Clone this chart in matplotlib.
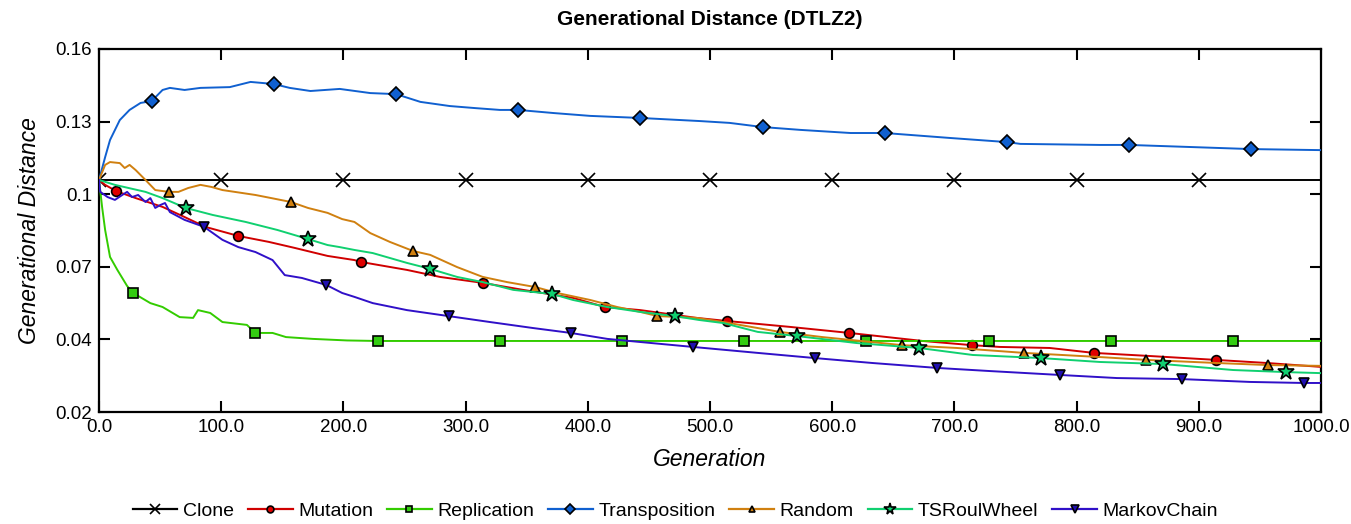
import numpy as np
import matplotlib
matplotlib.use("Agg")
import matplotlib.pyplot as plt
from matplotlib.lines import Line2D

plt.rcParams['font.family'] = ['Liberation Sans', 'DejaVu Sans']

title = "Generational Distance (DTLZ2)"
xlabel = "Generation"
ylabel = "Generational Distance"

x_ticks = [0, 100, 200, 300, 400, 500, 600, 700, 800, 900, 1000]
y_ticks = [0.02, 0.048, 0.076, 0.104, 0.132, 0.16]
y_tick_labels = ["0.02", "0.04", "0.07", "0.1", "0.13", "0.16"]

# ---- series data (generation, value) ----
clone_gen = [0, 100, 200, 300, 400, 500, 600, 700, 800, 900, 1000]
clone_val = [0.1095] * 11
clone_mk = [0, 100, 200, 300, 400, 500, 600, 700, 800, 900]

mutation_gen = [0, 5, 14, 30, 52, 70, 87, 114, 139, 160, 187, 209, 214, 252, 279, 314, 347, 388,
                414, 443, 489, 514, 566, 614, 674, 714, 737, 778, 814, 860, 914, 956, 1000]
mutation_val = [0.1095, 0.1076, 0.1052, 0.1025, 0.0991, 0.0952, 0.0914, 0.0879, 0.0856, 0.0833,
                0.0802, 0.0786, 0.0779, 0.0748, 0.0721, 0.0698, 0.0671, 0.0640, 0.0605, 0.0593,
                0.0563, 0.0551, 0.0528, 0.0505, 0.0474, 0.0458, 0.0451, 0.0447, 0.0428, 0.0416,
                0.0401, 0.0389, 0.0374]
mutation_mk = [14, 114, 214, 314, 414, 514, 614, 714, 814, 914]

replication_gen = [0, 2.5, 5, 9, 15, 23, 28, 42, 52, 66, 77, 81, 91, 101, 121, 128, 142, 153,
                   175, 203, 228, 328, 428, 528, 628, 728, 828, 928, 1000]
replication_val = [0.1095, 0.0991, 0.0902, 0.0798, 0.0748, 0.0686, 0.0659, 0.0620, 0.0605,
                   0.0566, 0.0563, 0.0593, 0.0582, 0.0547, 0.0536, 0.0505, 0.0505, 0.0489,
                   0.0482, 0.0476, 0.0474, 0.0474, 0.0474, 0.0474, 0.0474, 0.0474, 0.0474,
                   0.0474, 0.0474]
replication_mk = [28, 128, 228, 328, 428, 528, 628, 728, 828, 928]

transposition_gen = [0, 5, 9, 17, 25, 34, 43, 52, 58, 70, 83, 107, 124, 143, 156, 173, 197,
                     222, 243, 263, 287, 308, 328, 343, 372, 402, 443, 492, 516, 543, 574, 615,
                     643, 696, 743, 754, 819, 843, 893, 943, 1000]
transposition_val = [0.1095, 0.1183, 0.1249, 0.1326, 0.1365, 0.1392, 0.1399, 0.1442, 0.1450,
                     0.1442, 0.1450, 0.1453, 0.1473, 0.1465, 0.1450, 0.1438, 0.1446, 0.1430,
                     0.1426, 0.1396, 0.1380, 0.1372, 0.1365, 0.1365, 0.1353, 0.1342, 0.1334,
                     0.1322, 0.1315, 0.1299, 0.1288, 0.1276, 0.1276, 0.1257, 0.1241, 0.1234,
                     0.1230, 0.1230, 0.1222, 0.1214, 0.1210]
transposition_mk = [43, 143, 243, 343, 443, 543, 643, 743, 843, 943]

random_gen = [0, 5, 9, 17, 21, 25, 30, 38, 46, 57, 65, 73, 83, 92, 101, 111, 128, 141, 157,
              171, 187, 199, 209, 222, 238, 257, 271, 293, 314, 334, 357, 375, 402, 424, 443,
              457, 489, 511, 557, 592, 657, 702, 757, 819, 857, 915, 957, 1000]
random_val = [0.1095, 0.1153, 0.1164, 0.1160, 0.1141, 0.1153, 0.1133, 0.1095, 0.1056, 0.1049,
              0.1049, 0.1064, 0.1076, 0.1068, 0.1056, 0.1049, 0.1037, 0.1025, 0.1010, 0.0987,
              0.0968, 0.0944, 0.0933, 0.0890, 0.0856, 0.0821, 0.0806, 0.0759, 0.0721, 0.0701,
              0.0682, 0.0659, 0.0632, 0.0605, 0.0586, 0.0570, 0.0563, 0.0547, 0.0509, 0.0489,
              0.0458, 0.0447, 0.0428, 0.0412, 0.0401, 0.0389, 0.0381, 0.0378]
random_mk = [57, 157, 257, 357, 457, 557, 657, 757, 857, 957]

tsroul_gen = [0, 13, 38, 52, 71, 93, 120, 146, 171, 187, 197, 209, 224, 252, 271, 293, 314,
              339, 371, 388, 416, 443, 471, 491, 511, 539, 571, 620, 671, 715, 771, 819, 871,
              928, 971, 1000]
tsroul_val = [0.1095, 0.1076, 0.1049, 0.1025, 0.0987, 0.0960, 0.0933, 0.0902, 0.0867, 0.0844,
              0.0836, 0.0825, 0.0813, 0.0775, 0.0752, 0.0721, 0.0701, 0.0671, 0.0655, 0.0632,
              0.0605, 0.0586, 0.0570, 0.0555, 0.0543, 0.0509, 0.0493, 0.0466, 0.0447, 0.0420,
              0.0408, 0.0393, 0.0385, 0.0362, 0.0354, 0.0350]
tsroul_mk = [71, 171, 271, 371, 471, 571, 671, 771, 871, 971]

markov_gen = [0, 1, 7, 13, 19, 23, 27, 32, 38, 42, 46, 50, 54, 58, 70, 86, 101, 114, 128, 142,
              152, 166, 186, 199, 209, 224, 252, 286, 320, 355, 386, 416, 443, 486, 539, 586,
              633, 686, 729, 786, 833, 886, 942, 986, 1000]
markov_val = [0.1095, 0.1049, 0.1029, 0.1018, 0.1037, 0.1049, 0.1029, 0.1037, 0.1010, 0.1025,
              0.0987, 0.0998, 0.1006, 0.0971, 0.0941, 0.0914, 0.0864, 0.0836, 0.0817, 0.0786,
              0.0728, 0.0717, 0.0690, 0.0659, 0.0644, 0.0620, 0.0593, 0.0570, 0.0547, 0.0524,
              0.0505, 0.0482, 0.0470, 0.0451, 0.0428, 0.0408, 0.0389, 0.0370, 0.0358, 0.0343,
              0.0331, 0.0327, 0.0316, 0.0312, 0.0312]
markov_mk = [86, 186, 286, 386, 486, 586, 686, 786, 886, 986]

series = [
    ("Clone", clone_gen, clone_val, clone_mk, "#000000", "x", "#000000", 9.5),
    ("Mutation", mutation_gen, mutation_val, mutation_mk, "#D00000", "o", "#E00000", 7),
    ("Replication", replication_gen, replication_val, replication_mk, "#33CC00", "s", "#33CC11", 7),
    ("Transposition", transposition_gen, transposition_val, transposition_mk, "#1060D0", "D", "#1060D0", 7.5),
    ("Random", random_gen, random_val, random_mk, "#D08010", "^", "#D08010", 7),
    ("TSRoulWheel", tsroul_gen, tsroul_val, tsroul_mk, "#10D070", "*", "#10D070", 12),
    ("MarkovChain", markov_gen, markov_val, markov_mk, "#3010C8", "v", "#2010B0", 7.5),
]

fig = plt.figure(figsize=(13.51, 5.24), dpi=100)
ax = fig.add_axes([0.0733, 0.2137, 0.9045, 0.6928])

handles = []
for name, g, v, mk, lc, m, fc, ms in series:
    idx = [g.index(k) for k in mk]
    if m == "x":
        kw = dict(markeredgecolor="#000000", markeredgewidth=1.2)
    else:
        kw = dict(markerfacecolor=fc, markeredgecolor="#000000", markeredgewidth=1.2)
    ax.plot(g, v, color=lc, lw=1.4, marker=m, markersize=ms, markevery=idx, zorder=3, **kw)
    handles.append(Line2D([], [], color=lc, lw=1.6, marker=m, markersize=ms * 0.7, label=name, **kw))

ax.set_xlim(0, 1000)
ax.set_ylim(0.02, 0.16)
ax.set_xticks(x_ticks)
ax.set_xticklabels([f"{t:.1f}" for t in x_ticks])
ax.set_yticks(y_ticks)
ax.set_yticklabels(y_tick_labels)
ax.tick_params(axis="both", which="major", direction="in", length=8, width=1.5,
               labelsize=13.5, top=True, right=True, pad=5)
for s in ax.spines.values():
    s.set_linewidth(1.6)

ax.set_title(title, fontsize=15, fontweight="bold", pad=17)
ax.set_xlabel(xlabel, fontsize=16.5, style="italic", labelpad=9)
ax.set_ylabel(ylabel, fontsize=16.5, style="italic", labelpad=10)

fig.legend(handles=handles, loc="lower center", bbox_to_anchor=(0.5, -0.025), ncol=7,
           frameon=False, fontsize=14, handlelength=2.3, handletextpad=0.3, columnspacing=0.7)

fig.savefig("out.png", dpi=100)
